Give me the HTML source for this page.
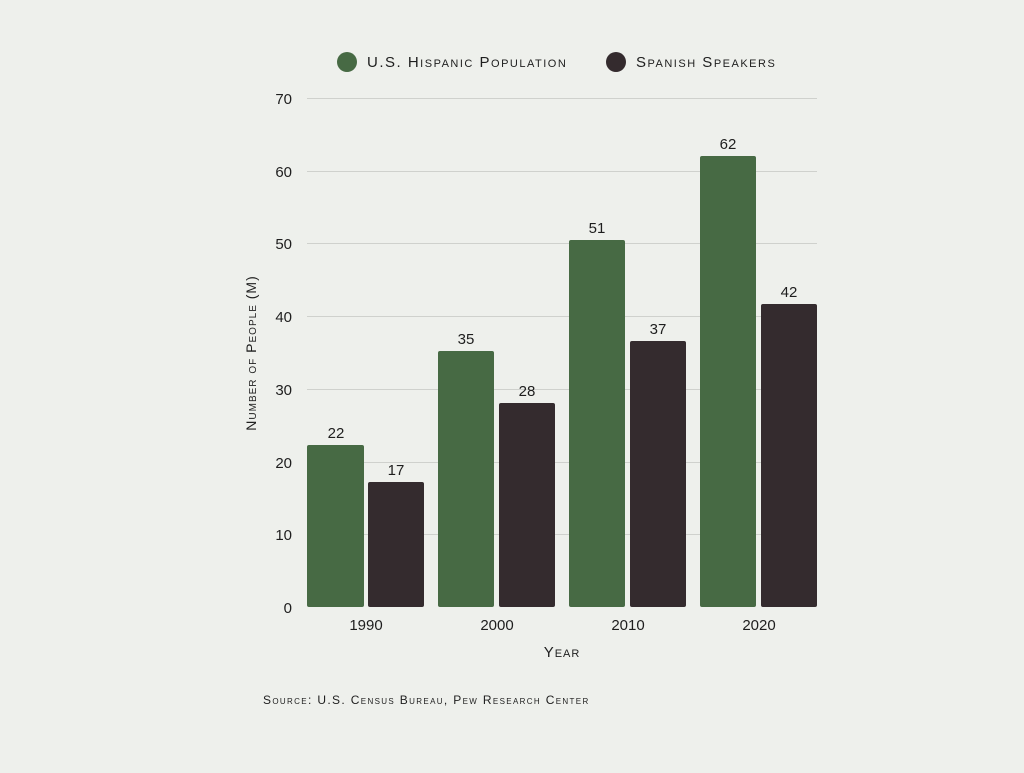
<!DOCTYPE html>
<html><head><meta charset="utf-8"><style>
html,body{margin:0;padding:0;background:#eef0ec}
svg text{font-family:"Liberation Sans","DejaVu Sans",sans-serif;fill:#1e1e1e}
.sc{font-variant:small-caps;letter-spacing:1px}
</style></head><body>
<svg width="1024" height="768" viewBox="0 0 1024 768" xmlns="http://www.w3.org/2000/svg">
<rect width="1024" height="768" fill="#eef0ec"/>
<circle cx="347" cy="62" r="10" fill="#476a44"/>
<text x="367" y="67" class="sc" font-size="15" style="letter-spacing:1.5px">U.S. Hispanic Population</text>
<circle cx="616" cy="62" r="10" fill="#342b2e"/>
<text x="636" y="67" class="sc" font-size="15" style="letter-spacing:1.5px">Spanish Speakers</text>
<g stroke="#cfd1cd" stroke-width="1">
<line x1="307" x2="817" y1="98.5" y2="98.5"/>
<line x1="307" x2="817" y1="171.5" y2="171.5"/>
<line x1="307" x2="817" y1="243.5" y2="243.5"/>
<line x1="307" x2="817" y1="316.5" y2="316.5"/>
<line x1="307" x2="817" y1="389.5" y2="389.5"/>
<line x1="307" x2="817" y1="462.5" y2="462.5"/>
<line x1="307" x2="817" y1="534.5" y2="534.5"/>
</g>
<g font-size="15" text-anchor="end">
<text x="292" y="104">70</text><text x="292" y="177">60</text><text x="292" y="249">50</text>
<text x="292" y="322">40</text><text x="292" y="395">30</text><text x="292" y="468">20</text>
<text x="292" y="540">10</text><text x="292" y="613">0</text>
</g>
<text transform="translate(256,353) rotate(-90)" text-anchor="middle" class="sc" font-size="14">Number of People (M)</text>
<g>
<rect x="307" y="445" width="57" height="162" rx="2" fill="#476a44"/>
<rect x="368" y="482" width="56" height="125" rx="2" fill="#342b2e"/>
<rect x="438" y="351" width="56" height="256" rx="2" fill="#476a44"/>
<rect x="499" y="403" width="56" height="204" rx="2" fill="#342b2e"/>
<rect x="569" y="240" width="56" height="367" rx="2" fill="#476a44"/>
<rect x="630" y="341" width="56" height="266" rx="2" fill="#342b2e"/>
<rect x="700" y="156" width="56" height="451" rx="2" fill="#476a44"/>
<rect x="761" y="304" width="56" height="303" rx="2" fill="#342b2e"/>
</g>
<g font-size="15" text-anchor="middle">
<text x="336" y="438">22</text><text x="396" y="475">17</text>
<text x="466" y="344">35</text><text x="527" y="396">28</text>
<text x="597" y="233">51</text><text x="658" y="334">37</text>
<text x="728" y="149">62</text><text x="789" y="297">42</text>
<text x="366" y="630">1990</text><text x="497" y="630">2000</text>
<text x="628" y="630">2010</text><text x="759" y="630">2020</text>
</g>
<text x="562" y="657" text-anchor="middle" class="sc" font-size="15">Year</text>
<text x="263" y="704" class="sc" font-size="12" style="letter-spacing:1.35px">Source: U.S. Census Bureau, Pew Research Center</text>
</svg>
</body></html>
